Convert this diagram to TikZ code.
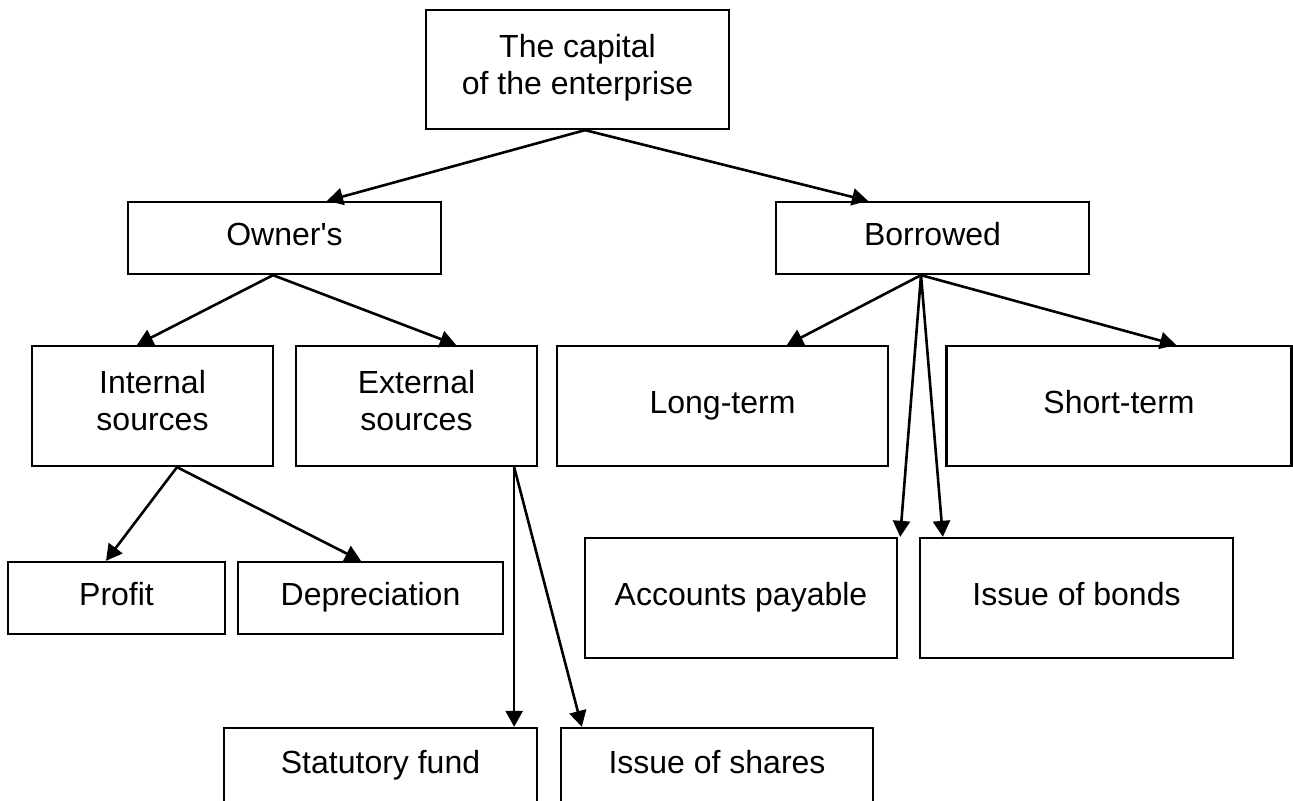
\documentclass[tikz,border=0pt]{standalone}
\usepackage{fontspec}
\setmainfont{Liberation Sans}
\usetikzlibrary{arrows.meta,calc}
\tikzset{
  box/.style={draw, line width=1.15pt, align=center, inner sep=0pt,
    font=\fontsize{16pt}{18.5pt}\selectfont,
    execute at begin node=\strut, execute at end node=\strut},
  wh/.style 2 args={minimum width=#1*0.5pt, minimum height=#2*0.5pt},
  link/.style={line width=1.3pt, -{Triangle[length=8pt,width=8.5pt]}}
}
\begin{document}
\begin{tikzpicture}[x=0.5pt, y=-0.5pt]
  \path[fill=white] (0,0) rectangle (1293,801);
  \useasboundingbox (0,0) rectangle (1293,801);
  \clip (0,0) rectangle (1293,801);
  % top and second level
  \node[box, wh={303}{119}] (cap) at (577.5,69.5) {The capital\\of the enterprise};
  \node[box, wh={313}{72}] (own) at (284.5,238) {Owner\textquotesingle s};
  \node[box, wh={313}{72}] (bor) at (932.5,238) {Borrowed};
  % third level
  \node[box, wh={241}{120}] (int) at (152.5,406) {Internal\\sources};
  \node[box, wh={241}{120}] (ext) at (416.5,406) {External\\sources};
  \node[box, wh={331}{120}] (lng) at (722.5,406) {Long-term};
  \node[box, wh={345}{120}] (sht) at (1119,406) {Short-term};
  % lower boxes
  \node[box, wh={217}{72}] (pro) at (116.5,598) {Profit};
  \node[box, wh={265}{72}] (dep) at (370.5,598) {Depreciation};
  \node[box, wh={312}{120}] (acc) at (741,598) {Accounts payable};
  \node[box, wh={313}{120}] (bnd) at (1076.5,598) {Issue of bonds};
  \node[box, wh={313}{76}] (sta) at (380.5,766) {Statutory fund};
  \node[box, wh={312}{76}] (shr) at (717,766) {Issue of shares};

  \draw[link] ($(cap.south)+(7.5,0)$) -- ($(own.north)+(42.5,0)$);
  \draw[link] ($(cap.south)+(7.5,0)$) -- ($(bor.north)+(-64.5,0)$);
  \draw[link] ($(own.south)+(-11.5,0)$) -- ($(int.north)+(-15.5,0)$);
  \draw[link] ($(own.south)+(-11.5,0)$) -- ($(ext.north)+(39.5,0)$);
  \draw[link] ($(bor.south)+(-11.5,0)$) -- ($(lng.north)+(64.5,0)$);
  \draw[link] ($(bor.south)+(-11.5,0)$) -- ($(sht.north)+(57,0)$);
  \draw[link] ($(bor.south)+(-11.5,0)$) -- ($(acc.north east)+(2,0)$);
  \draw[link] ($(bor.south)+(-11.5,0)$) -- ($(bnd.north west)+(24,0)$);
  \draw[link] ($(int.south)+(24.5,0)$) -- ($(pro.north)+(-10.5,0)$);
  \draw[link] ($(int.south)+(24.5,0)$) -- ($(dep.north)+(-9.5,0)$);
  \draw[link] ($(ext.south east)+(-24,0)$) -- ($(sta.north east)+(-24,0)$);
  \draw[link] ($(ext.south east)+(-24,0)$) -- ($(shr.north west)+(22,0)$);
\end{tikzpicture}
\end{document}
